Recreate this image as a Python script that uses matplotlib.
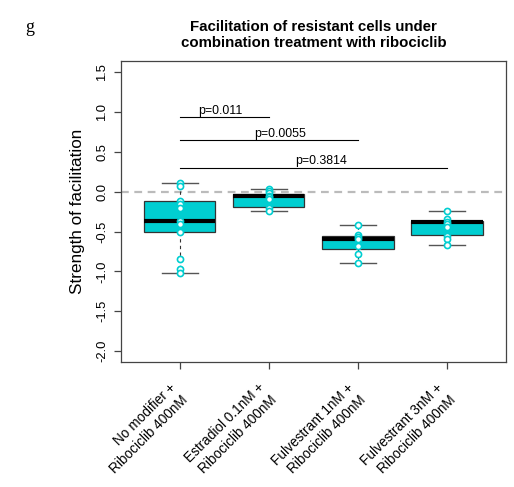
import matplotlib
matplotlib.use("Agg")
import matplotlib.pyplot as plt

plt.rcParams['font.family'] = ['Liberation Sans', 'DejaVu Sans']
plt.rcParams['axes.unicode_minus'] = False

# groups
labels = ["No modifier +\nRibociclib 400nM",
          "Estradiol 0.1nM +\nRibociclib 400nM",
          "Fulvestrant 1nM +\nRibociclib 400nM",
          "Fulvestrant 3nM +\nRibociclib 400nM"]

# box stats
whislo = [-1.025, -0.246, -0.90, -0.67]
q1 = [-0.50, -0.196, -0.716, -0.548]
med = [-0.364, -0.05, -0.594, -0.384]
q3 = [-0.12, -0.029, -0.56, -0.364]
whishi = [0.109, 0.034, -0.418, -0.239]

# individual replicates
pts1 = [0.105, 0.07, -0.12, -0.16, -0.205, -0.37, -0.405, -0.50, -0.846, -0.97, -1.02]
pts2 = [0.035, 0.01, -0.01, -0.05, -0.07, -0.09, -0.209, -0.246]
pts3 = [-0.418, -0.545, -0.57, -0.595, -0.686, -0.783, -0.90]
pts4 = [-0.239, -0.345, -0.38, -0.406, -0.447, -0.56, -0.594, -0.67]
points = [pts1, pts2, pts3, pts4]

# significance brackets
sig_to = [2, 3, 4]
sig_y = [0.935, 0.65, 0.30]
sig_tx = [1.46, 2.13, 2.59]
sig_ty = [0.976, 0.69, 0.348]
sig_txt = ["p=0.011", "p=0.0055", "p=0.3814"]

cyan = "#00CED1"

fig = plt.figure(figsize=(5.14, 4.87), dpi=100)
ax = fig.add_axes([0.2354, 0.2561, 0.7485, 0.6186])

stats = []
for i in range(4):
    stats.append(dict(whislo=whislo[i], q1=q1[i], med=med[i], q3=q3[i],
                      whishi=whishi[i], fliers=[]))

ax.bxp(stats, positions=[1, 2, 3, 4], widths=0.8, patch_artist=True,
       boxprops=dict(facecolor=cyan, edgecolor="#333333", linewidth=0.9),
       medianprops=dict(color="black", linewidth=3.0, solid_capstyle="butt"),
       whiskerprops=dict(color="#333333", linewidth=0.8, linestyle=(0, (3, 3))),
       capprops=dict(color="#555555", linewidth=1.0),
       capwidths=0.4, zorder=2)

ax.axhline(0, color="#BBBBBB", lw=1.6, linestyle=(0, (3.5, 2.5)), zorder=1)

for i, p in enumerate(points):
    ax.plot([i + 1] * len(p), p, 'o', ms=4.4, mfc="white", mec=cyan,
            mew=1.2, zorder=4, linestyle='none')

for to, y, tx, ty, t in zip(sig_to, sig_y, sig_tx, sig_ty, sig_txt):
    ax.plot([1, to], [y, y], color="black", lw=0.8, zorder=3)
    ax.text(tx, ty, t, ha="center", va="baseline", fontsize=8.9)

ax.set_xlim(0.34, 4.66)
ax.set_ylim(-2.14, 1.64)
ax.set_yticks([-2.0, -1.5, -1.0, -0.5, 0.0, 0.5, 1.0, 1.5])
ax.set_yticklabels(["-2.0", "-1.5", "-1.0", "-0.5", "0.0", "0.5", "1.0", "1.5"],
                   rotation=90, va="center", fontsize=9.4)
ax.set_xticks([1, 2, 3, 4])
ax.set_xticklabels(labels, fontsize=9.8)
for lab in ax.get_xticklabels():
    lab.set_rotation(45)
    lab.set_ha("right")
    lab.set_va("center")
    lab.set_rotation_mode("anchor")
    lab.set_multialignment("right")
    lab.set_linespacing(1.3)

ax.tick_params(axis="x", length=5, width=0.9, color="#444444", pad=16)
ax.tick_params(axis="y", length=5, width=0.9, color="#444444", pad=4)
for s in ax.spines.values():
    s.set_color("#444444")
    s.set_linewidth(0.9)

ax.set_ylabel("Strength of facilitation", fontsize=12.3, labelpad=8)
ax.set_title("Facilitation of resistant cells under\ncombination treatment with ribociclib",
             fontsize=10.8, fontweight="bold", pad=10)

fig.text(0.05, 0.935, "g", family="Liberation Serif", fontsize=13)

fig.savefig("out.png", dpi=100)
